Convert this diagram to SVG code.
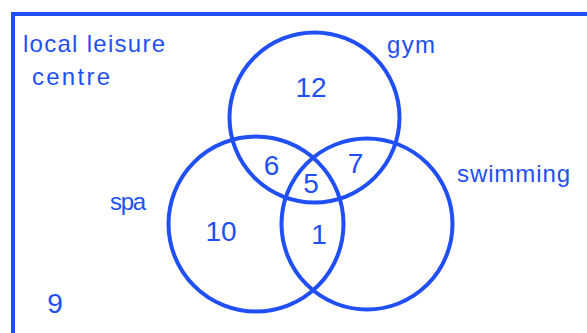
<svg xmlns="http://www.w3.org/2000/svg" width="587" height="333" viewBox="0 0 587 333">
  <style>
    .set { fill: none; stroke: #1f4ff5; stroke-width: 4; }
    .frame { fill: none; stroke: #1f4ff5; stroke-width: 4; }
    .lbl { font-family: "Liberation Sans", Arial, sans-serif; font-size: 24px; fill: #1f4ff5; }
    .num { font-family: "Liberation Sans", Arial, sans-serif; font-size: 28px; fill: #1f4ff5; text-anchor: middle; }
  </style>
  <rect width="587" height="333" fill="#ffffff"/>
  <g id="universe">
    <rect class="frame" x="13" y="14" width="590" height="340"/>
    <text class="lbl" x="23" y="52" textLength="142" lengthAdjust="spacing">local leisure</text>
    <text class="lbl" x="32" y="85" textLength="78" lengthAdjust="spacing">centre</text>
    <text class="num" x="55" y="313" font-size="30">9</text>
  </g>
  <g id="gym">
    <circle class="set" cx="314.5" cy="117.5" r="85"/>
    <text class="lbl" x="387" y="53" textLength="48" lengthAdjust="spacing">gym</text>
    <text class="num" x="311" y="97">12</text>
  </g>
  <g id="spa">
    <circle class="set" cx="256" cy="224" r="87.5"/>
    <text class="lbl" x="110" y="210" textLength="36" lengthAdjust="spacing">spa</text>
    <text class="num" x="221" y="241">10</text>
  </g>
  <g id="swimming">
    <circle class="set" cx="367" cy="224" r="85.5"/>
    <text class="lbl" x="457" y="182" textLength="113" lengthAdjust="spacing">swimming</text>
  </g>
  <g id="intersections">
    <text class="num" x="271.5" y="175">6</text>
    <text class="num" x="355.5" y="173">7</text>
    <text class="num" x="311" y="193">5</text>
    <text class="num" x="319" y="244">1</text>
  </g>
  <g id="connectors"></g>
</svg>
